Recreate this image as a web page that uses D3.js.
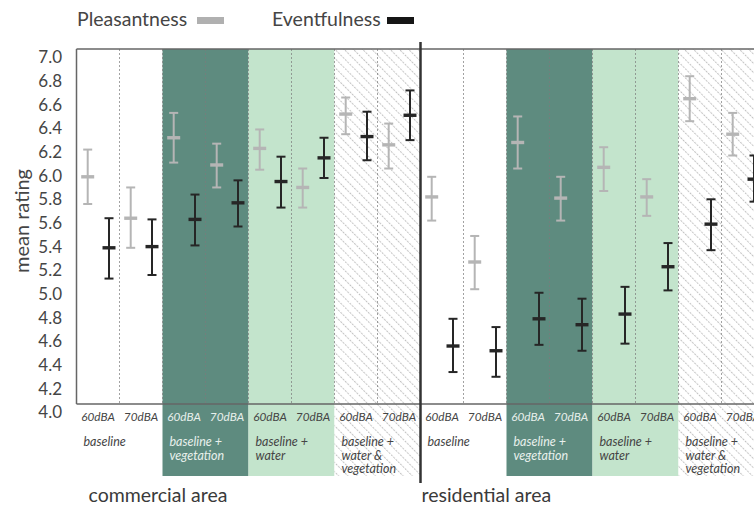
<!DOCTYPE html>
<html>
<head>
<meta charset="utf-8">
<script src="https://cdn.jsdelivr.net/npm/d3@7"></script>
<style>
  html, body { margin: 0; padding: 0; background: #fff; }
  svg { display: block; font-family: Lato, "Open Sans", sans-serif; }
</style>
</head>
<body>
<svg id="chart" width="754" height="508"></svg>
<script>
// Study areas, acoustic settings and sound levels
const areas = ["commercial area", "residential area"];
const settings = [
  ["baseline"],
  ["baseline +", "vegetation"],
  ["baseline +", "water"],
  ["baseline +", "water &", "vegetation"]
];
const levels = ["60dBA", "70dBA"];

// Mean ratings with interval bounds, ordered area > setting > level
const pleasMean = [5.92, 5.57, 6.25, 6.02, 6.16, 5.83, 6.45, 6.19, 5.75, 5.20, 6.21, 5.74, 6.00, 5.75, 6.58, 6.28];
const pleasLow  = [5.69, 5.32, 6.04, 5.83, 5.98, 5.66, 6.28, 5.99, 5.55, 4.97, 5.99, 5.55, 5.80, 5.59, 6.39, 6.10];
const pleasHigh = [6.15, 5.83, 6.46, 6.20, 6.32, 5.99, 6.59, 6.37, 5.92, 5.42, 6.43, 5.92, 6.17, 5.90, 6.77, 6.46];
const eventMean = [5.32, 5.33, 5.56, 5.70, 5.88, 6.08, 6.26, 6.44, 4.49, 4.45, 4.72, 4.67, 4.76, 5.16, 5.52, 5.90];
const eventLow  = [5.06, 5.09, 5.34, 5.50, 5.66, 5.91, 6.06, 6.23, 4.27, 4.23, 4.50, 4.45, 4.51, 4.96, 5.30, 5.71];
const eventHigh = [5.57, 5.56, 5.77, 5.89, 6.09, 6.25, 6.47, 6.65, 4.72, 4.65, 4.94, 4.89, 4.99, 5.36, 5.73, 6.10];

const yTicks = d3.range(4.0, 7.01, 0.2);
const legendItems = ["Pleasantness", "Eventfulness"];

// ---- layout ----
const svg = d3.select("#chart");
const W = 754;
const plotTop = 49, plotBottom = 404, labelBottom = 476;
const colW = 43, x0 = 76.5;

const cols = [];
areas.forEach((a, ai) => settings.forEach((s, si) => levels.forEach((l, li) => {
  cols.push({ key: `${ai}-${si}-${li}`, area: ai, setting: si, level: l });
})));
cols.forEach((c, i) => {
  c.pm = pleasMean[i]; c.pl = pleasLow[i]; c.ph = pleasHigh[i];
  c.em = eventMean[i]; c.el = eventLow[i]; c.eh = eventHigh[i];
});

const x = d3.scaleBand().domain(cols.map(c => c.key))
  .range([x0, x0 + colW * cols.length]).paddingInner(0).paddingOuter(0);
const y = d3.scaleLinear().domain([4, 7]).range([plotBottom, plotTop]);

const darkGreen = "#5e8b7f", lightGreen = "#c3e4cc";
const pleasColor = "#b5b5b5", eventColor = "#262626";
const textColor = "#454545";

// hatch pattern for the combined water & vegetation setting
const defs = svg.append("defs");
const pat = defs.append("pattern").attr("id", "hatch")
  .attr("patternUnits", "userSpaceOnUse").attr("width", 6.5).attr("height", 6.5)
  .attr("patternTransform", "rotate(-45)");
pat.append("rect").attr("width", 6.5).attr("height", 6.5).attr("fill", "#fff");
pat.append("line").attr("x1", 0.5).attr("y1", 0).attr("x2", 0.5).attr("y2", 6.5)
  .attr("stroke", "#c2c2c2").attr("stroke-width", 1).attr("stroke-dasharray", "2,1.25");

const settingFill = ["#fff", darkGreen, lightGreen, "url(#hatch)"];

// setting backgrounds (plot + label block)
const groups = [];
areas.forEach((a, ai) => settings.forEach((s, si) => groups.push({ area: ai, setting: si, lines: s })));
const gx = g => x(`${g.area}-${g.setting}-0`);

svg.append("g").selectAll("rect").data(groups.filter(g => g.setting > 0)).join("rect")
  .attr("x", gx).attr("y", plotTop)
  .attr("width", colW * 2).attr("height", labelBottom - plotTop)
  .attr("fill", g => settingFill[g.setting]);

// dotted column separators
const seps = cols.map(c => x(c.key)).filter((v, i) => i !== 0 && i !== 8);
svg.append("g").selectAll("line").data(seps).join("line")
  .attr("x1", d => d).attr("x2", d => d)
  .attr("y1", plotTop).attr("y2", plotBottom)
  .attr("stroke", "#7a7a7a").attr("stroke-opacity", 0.7)
  .attr("stroke-width", 1).attr("stroke-dasharray", "2,2");

// frame
const frame = svg.append("g").attr("stroke", "#666").attr("stroke-width", 1.5);
frame.append("line").attr("x1", x0).attr("x2", W).attr("y1", plotTop).attr("y2", plotTop);
frame.append("line").attr("x1", x0).attr("x2", W).attr("y1", plotBottom).attr("y2", plotBottom);
frame.append("line").attr("x1", x0).attr("x2", x0).attr("y1", plotTop).attr("y2", plotBottom);

// area divider
const divX = x("1-0-0");
svg.append("line").attr("x1", divX).attr("x2", divX).attr("y1", 42).attr("y2", 483)
  .attr("stroke", "#333").attr("stroke-width", 2.5);

// y axis labels
const yAxis = svg.append("g").attr("transform", `translate(62,0)`)
  .call(d3.axisLeft(y).tickValues(yTicks).tickFormat(d3.format(".1f")).tickSize(0).tickPadding(0));
yAxis.select(".domain").remove();
yAxis.selectAll("text").attr("font-size", 17).attr("fill", textColor)
  .attr("font-family", "Lato, 'Open Sans', sans-serif").attr("dy", "0.82em");

svg.append("text").attr("transform", `translate(29,221) rotate(-90)`)
  .attr("text-anchor", "middle").attr("font-size", 20).attr("fill", textColor)
  .text("mean rating");

// error bars
function errorBars(key, color, off) {
  const g = svg.append("g").attr("stroke", color);
  const cx = c => x(c.key) + off;
  g.selectAll(".v").data(cols).join("line")
    .attr("x1", cx).attr("x2", cx)
    .attr("y1", c => y(c[key + "l"])).attr("y2", c => y(c[key + "h"]))
    .attr("stroke-width", 2);
  ["l", "h"].forEach(k => {
    g.selectAll(".c" + k).data(cols).join("line")
      .attr("x1", c => cx(c) - 4.5).attr("x2", c => cx(c) + 4.5)
      .attr("y1", c => y(c[key + k])).attr("y2", c => y(c[key + k]))
      .attr("stroke-width", 2);
  });
  g.selectAll(".m").data(cols).join("line")
    .attr("x1", c => cx(c) - 6.5).attr("x2", c => cx(c) + 6.5)
    .attr("y1", c => y(c[key + "m"])).attr("y2", c => y(c[key + "m"]))
    .attr("stroke-width", 3.4);
}
errorBars("p", pleasColor, 11.2);
errorBars("e", eventColor, 32.5);

// level labels under each column
svg.append("g").selectAll("text").data(cols).join("text")
  .attr("x", c => x(c.key) + colW / 2).attr("y", 421)
  .attr("text-anchor", "middle").attr("font-size", 11.8).attr("font-style", "italic")
  .attr("fill", c => c.setting === 1 ? "#e8f0ec" : textColor)
  .text(c => c.level);

// setting labels
const gl = svg.append("g").selectAll("text").data(groups).join("text")
  .attr("x", g => gx(g) + 7).attr("y", 446)
  .attr("font-size", 12.5).attr("font-style", "italic")
  .attr("fill", g => g.setting === 1 ? "#e8f0ec" : textColor);
gl.selectAll("tspan").data(g => g.lines.map(t => ({ t, x: gx(g) + 7 }))).join("tspan")
  .attr("x", d => d.x).attr("dy", (d, i) => i === 0 ? 0 : 13.5).text(d => d.t);

// area labels
svg.append("g").selectAll("text").data(areas).join("text")
  .attr("x", (a, i) => i === 0 ? x0 + 12 : divX + 1).attr("y", 502)
  .attr("font-size", 19.5).attr("fill", "#3a3a3a").text(a => a);

// legend
const leg = svg.append("g");
const legX = [77, 272], swX = [197, 387];
legendItems.forEach((t, i) => {
  leg.append("text").attr("x", legX[i]).attr("y", 26).attr("font-size", 19.5)
    .attr("fill", textColor).text(t);
  leg.append("rect").attr("x", swX[i]).attr("y", 17).attr("width", 27).attr("height", 7)
    .attr("fill", i === 0 ? "#b0b0b0" : "#161616");
});
</script>
</body>
</html>
